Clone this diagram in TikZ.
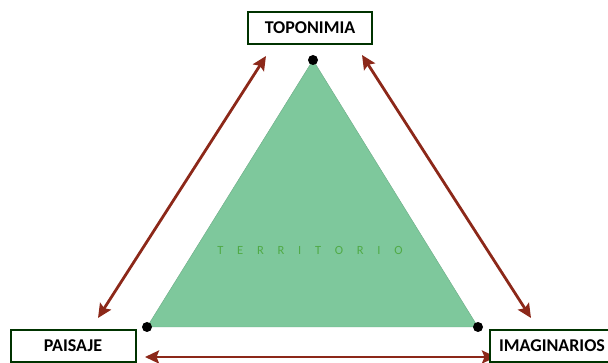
\documentclass[tikz,border=0pt]{standalone}
\usepackage{fontspec}
\setmainfont{Carlito}
\usetikzlibrary{arrows.meta}
\definecolor{trifill}{RGB}{126,200,156}
\definecolor{arrowred}{RGB}{140,40,25}
\definecolor{textgreen}{RGB}{80,170,70}
\begin{document}
\begin{tikzpicture}[x=1pt,y=-1pt,
  label box/.style={draw=black!80!green, line width=2pt, fill=white, font=\bfseries\fontsize{18}{20}\selectfont, inner sep=0pt, minimum height=32pt},
  vdot/.style={circle, fill=black, inner sep=0pt, minimum size=10pt},
  link/.style={draw=arrowred, line width=2.8pt, {Stealth[length=14pt,width=13pt,inset=2.5pt]}-{Stealth[length=14pt,width=13pt,inset=2.5pt]}}]
\useasboundingbox (0,0) rectangle (608,363);
\coordinate (A) at (313,60);
\coordinate (B) at (147,327);
\coordinate (C) at (478,327);
\fill[trifill] (A) -- (B) -- (C) -- cycle;
\draw[trifill!85!black, line width=0.4pt] (A) -- (B) -- (C) -- cycle;
\node[vdot] (dA) at (A) {};
\node[vdot] (dB) at (B) {};
\node[vdot] (dC) at (C) {};
\node[text=textgreen, font=\fontsize{12.5}{13}\selectfont] (terr) at (310,250) {T\hspace{1.1em}E\hspace{1.1em}R\hspace{1.1em}R\hspace{1.1em}I\hspace{1.1em}T\hspace{1.1em}O\hspace{1.1em}R\hspace{1.1em}I\hspace{1.1em}O};
\coordinate (l1) at (266,56);
\coordinate (l2) at (98,318);
\coordinate (r1) at (362,55);
\coordinate (r2) at (531,318);
\coordinate (b1) at (145,357);
\coordinate (b2) at (496,357);
\draw[link] (l1) -- (l2);
\draw[link] (r1) -- (r2);
\draw[link] (b1) -- (b2);
\node[label box, minimum width=124pt] (topo) at (310,28) {TOPONIMIA};
\node[label box, minimum width=125pt] (pais) at (73,346) {PAISAJE};
\node[label box, minimum width=124pt] (imag) at (552,346) {IMAGINARIOS};
\end{tikzpicture}
\end{document}
